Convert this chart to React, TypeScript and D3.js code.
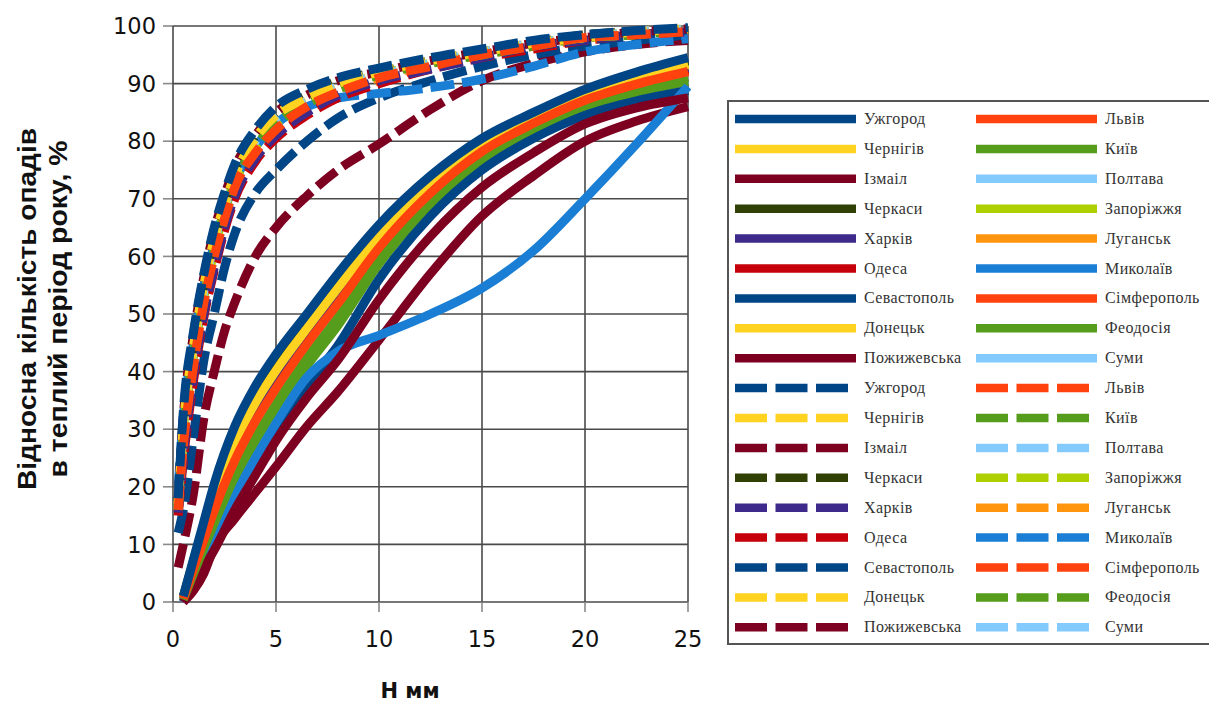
import * as d3 from 'd3';

const xTicks = [0, 5, 10, 15, 20, 25];
const yTicks = [0, 10, 20, 30, 40, 50, 60, 70, 80, 90, 100];

const cities = [
  'Ужгород', 'Львів', 'Чернігів', 'Київ', 'Ізмаіл', 'Полтава',
  'Черкаси', 'Запоріжжя', 'Харків', 'Луганськ', 'Одеса', 'Миколаїв',
  'Севастополь', 'Сімферополь', 'Донецьк', 'Феодосія', 'Пожижевська', 'Суми',
];
const colors = [
  '#004586', '#ff420e', '#ffd320', '#579d1c', '#7e0021', '#83caff',
  '#314004', '#aecf00', '#3d2a8a', '#ff950e', '#c5000b', '#1a7fd4',
  '#004586', '#ff420e', '#ffd320', '#579d1c', '#7e0021', '#83caff',
];

// solid lines (lower family)
const xSolid = [0.5, 1, 1.5, 2, 3, 4, 5, 6.5, 8, 10, 12.5, 15, 17.5, 20, 22.5, 25];
const uzhhorodSolid = [1, 7.5, 14, 20.5, 30.5, 37.5, 43, 50, 57, 65.5, 74, 80.5, 85, 89, 92, 94.5];
const lvivSolid = [0.6, 5.8, 10.8, 15.9, 24.6, 31.4, 37.1, 44.8, 51.8, 61.5, 71, 78.2, 83.1, 87.1, 89.9, 92.1];
const chernihivSolid = [0.8, 6.7, 12.5, 18.3, 27.7, 34.6, 40.2, 47.5, 54.5, 63.6, 72.6, 79.4, 84.1, 88.1, 91, 93.4];
const kyivSolid = [0.4, 5, 9.4, 13.7, 21.8, 28.5, 34.3, 42.3, 49.3, 59.6, 69.7, 77.1, 82.2, 86.2, 88.9, 91];
const izmailSolid = [0, 3, 6, 9, 16, 22, 28, 35.5, 42, 52.5, 63.5, 72, 78, 83, 85.8, 87.5];
const poltavaSolid = [0.5, 5.4, 10.1, 14.8, 23.2, 30, 35.7, 43.5, 50.5, 60.6, 70.4, 77.6, 82.7, 86.7, 89.4, 91.5];
const cherkasySolid = [0.9, 7.2, 13.4, 19.6, 29.4, 36.3, 41.9, 49, 56, 64.7, 73.4, 80.1, 84.6, 88.6, 91.6, 94];
const zaporizhzhiaSolid = [0.8, 6.9, 12.9, 18.8, 28.4, 35.3, 40.9, 48.1, 55.1, 64.1, 73, 79.7, 84.3, 88.3, 91.2, 93.6];
const kharkivSolid = [0.7, 6.3, 11.8, 17.2, 26.3, 33.2, 38.8, 46.3, 53.3, 62.7, 71.9, 78.9, 83.7, 87.7, 90.5, 92.8];
const luhanskSolid = [0.7, 6.4, 12, 17.5, 26.7, 33.6, 39.2, 46.6, 53.6, 62.9, 72.1, 79, 83.8, 87.8, 90.6, 93];
const odesaSolid = [0.6, 6.1, 11.4, 16.6, 25.6, 32.4, 38.1, 45.6, 52.6, 62.2, 71.5, 78.6, 83.4, 87.4, 90.2, 92.5];
const mykolaivSolid = [0, 4.5, 8, 11.5, 18.5, 25, 31, 39, 43.5, 46.3, 50, 54.5, 61, 70, 79.5, 89.5];
const sevastopolSolid = [0, 3.5, 6.5, 9.5, 16.5, 23, 29, 37.5, 44.5, 56, 67, 75, 80.5, 84.5, 87, 88.8];
const simferopolSolid = [0.5, 5.7, 10.6, 15.5, 24.2, 31, 36.7, 44.4, 51.4, 61.2, 70.8, 78, 83, 87, 89.7, 91.9];
const donetskSolid = [0.8, 6.6, 12.4, 18.1, 27.4, 34.3, 39.9, 47.3, 54.3, 63.4, 72.5, 79.3, 84, 88, 90.9, 93.2];
const feodosiaSolid = [0.3, 4.6, 8.6, 12.6, 20.4, 27.1, 32.9, 41, 48, 58.7, 69, 76.5, 81.8, 85.8, 88.4, 90.4];
const pozhyzhevskaSolid = [0, 2, 5, 9.5, 14.5, 19, 23.5, 30.5, 36.5, 45.5, 57, 67, 74, 80, 83.5, 86];
const sumySolid = [0.3, 4.9, 9, 13.2, 21.2, 27.9, 33.8, 41.8, 48.8, 59.2, 69.4, 76.9, 82, 86, 88.7, 90.7];

// dashed lines (upper family)
const xDashed = [0.25, 0.5, 1, 1.5, 2, 2.5, 3, 4, 5, 6.5, 8, 10, 12.5, 15, 17.5, 20, 22.5, 25];
const uzhhorodDashed = [18, 33, 47, 57, 65, 71, 76, 82, 86, 89, 91, 92.7, 94.5, 96, 97.5, 98.5, 99.2, 99.7];
const lvivDashed = [16, 27, 41, 52, 60, 66.5, 72, 78, 82, 86, 88.5, 91, 93, 95, 96.5, 98, 98.5, 99];
const chernihivDashed = [17, 30.5, 44.5, 55, 63, 69, 74, 80.5, 84.5, 87.5, 90, 92, 94, 95.5, 97, 98, 99, 99.5];
const kyivDashed = [16, 28.5, 42.5, 52.5, 61, 67, 72.5, 79, 83, 86.5, 89, 91.5, 93.5, 95, 96.5, 98, 98.5, 99.5];
const izmailDashed = [17, 32, 46.5, 56.5, 64.5, 70.5, 75.5, 81, 85, 88, 90.5, 92, 94, 95.5, 97, 98, 99, 99.5];
const poltavaDashed = [17, 30, 44, 54, 62.5, 68.5, 74, 80, 84, 87, 89.5, 91.5, 93.5, 95.5, 97, 98, 99, 99.5];
const cherkasyDashed = [17.5, 31.5, 45.5, 55.5, 63.5, 69.5, 75, 81, 85, 88, 90.5, 92, 94, 95.5, 97, 98.5, 99, 99.5];
const zaporizhzhiaDashed = [16.5, 29, 43, 53, 61, 68, 73, 79, 83, 87, 89, 91.5, 93.5, 95, 97, 98, 98.5, 99.5];
const kharkivDashed = [15.5, 25.5, 39.5, 50, 58, 65, 70.5, 77, 81, 85, 88, 90.5, 92.5, 94.5, 96.5, 97.5, 98.5, 99];
const luhanskDashed = [16, 28, 42, 52.5, 60.5, 67, 72.5, 78.5, 82.5, 86.5, 89, 91, 93.5, 95, 96.5, 98, 98.5, 99.5];
const odesaDashed = [15, 24.5, 38.5, 49.5, 57.5, 64.5, 70, 76.5, 80.5, 84.5, 87.5, 90, 92.5, 94.5, 96, 97.5, 98.5, 99];
const mykolaivDashed = [20, 32, 45, 55, 62, 68, 73, 79, 83, 86, 87.5, 88.3, 89.3, 90.8, 93, 95.5, 96.8, 97.8];
const sevastopolDashed = [12, 16, 29, 42, 50, 58, 64, 71, 75, 80, 84, 87.5, 90.5, 93, 95, 96.5, 97.5, 98.5];
const simferopolDashed = [15.5, 26, 40, 51, 59, 66, 71, 77.5, 81.5, 85.5, 88, 90.5, 93, 95, 96.5, 97.5, 98.5, 99];
const donetskDashed = [17, 29.5, 43.5, 54, 62, 68.5, 73.5, 80, 84, 87, 89.5, 91.5, 93.5, 95.5, 97, 98, 99, 99.5];
const feodosiaDashed = [16.5, 29, 43, 53.5, 61.5, 68, 73, 79.5, 83.5, 87, 89.5, 91.5, 93.5, 95.5, 97, 98, 98.5, 99.5];
const pozhyzhevskaDashed = [6, 10, 19, 32, 40, 47, 52, 60, 65, 70.5, 75, 79.5, 85.5, 90.5, 93.5, 95.5, 96.8, 97.5];
const sumyDashed = [16, 27.5, 41.5, 52, 60, 66.5, 72, 78, 82, 86, 88.5, 91, 93, 95, 96.5, 97.5, 98.5, 99];

const solidSeries = [
  uzhhorodSolid, lvivSolid, chernihivSolid, kyivSolid, izmailSolid, poltavaSolid,
  cherkasySolid, zaporizhzhiaSolid, kharkivSolid, luhanskSolid, odesaSolid, mykolaivSolid,
  sevastopolSolid, simferopolSolid, donetskSolid, feodosiaSolid, pozhyzhevskaSolid, sumySolid,
];
const dashedSeries = [
  uzhhorodDashed, lvivDashed, chernihivDashed, kyivDashed, izmailDashed, poltavaDashed,
  cherkasyDashed, zaporizhzhiaDashed, kharkivDashed, luhanskDashed, odesaDashed, mykolaivDashed,
  sevastopolDashed, simferopolDashed, donetskDashed, feodosiaDashed, pozhyzhevskaDashed, sumyDashed,
];

const W = 1209;
const H = 705;

export default function App() {
  const x = d3.scaleLinear().domain([0, 25]).range([173, 688]);
  const y = d3.scaleLinear().domain([0, 100]).range([602, 26]);

  const line = d3.line<[number, number]>()
    .x(d => x(d[0]))
    .y(d => y(d[1]))
    .curve(d3.curveMonotoneX);

  // first series ends up on top, so paint in reverse
  const series = [
    ...solidSeries.map((vals, i) => ({ xs: xSolid, vals, color: colors[i], dashed: false })),
    ...dashedSeries.map((vals, i) => ({ xs: xDashed, vals, color: colors[i], dashed: true })),
  ].reverse();

  // legend: 2 columns, row-major, solid items first then dashed
  const legendItems = [
    ...cities.map((name, i) => ({ name, color: colors[i], dashed: false })),
    ...cities.map((name, i) => ({ name, color: colors[i], dashed: true })),
  ];
  const legX = [735, 976];
  const rowY = (r: number) => 119 + r * 29.9;

  return (
    <svg width={W} height={H} style={{ position: 'absolute', left: 0, top: 0, background: '#fff' }}>
      {/* grid */}
      {yTicks.map(t => (
        <g key={'gy' + t}>
          <line x1={x(0) - 10} x2={x(0)} y1={y(t)} y2={y(t)} stroke="#8a8a8a" strokeWidth={1.6} />
          <line x1={x(0)} x2={x(25)} y1={y(t)} y2={y(t)} stroke="#4a4a4a" strokeWidth={1.6} />
          <text x={156} y={y(t)} dy="0.36em" textAnchor="end" fontFamily="DejaVu Sans" fontSize={22.5} fill="#111">{t}</text>
        </g>
      ))}
      {xTicks.map(t => (
        <g key={'gx' + t}>
          <line x1={x(t)} x2={x(t)} y1={y(0)} y2={y(0) + 10} stroke="#8a8a8a" strokeWidth={1.6} />
          <line x1={x(t)} x2={x(t)} y1={y(0)} y2={y(100)} stroke="#4a4a4a" strokeWidth={1.6} />
          <text x={x(t)} y={647} textAnchor="middle" fontFamily="DejaVu Sans" fontSize={22.5} fill="#111">{t}</text>
        </g>
      ))}

      {/* series */}
      {series.map((s, i) => (
        <path
          key={'s' + i}
          d={line(s.xs.map((v, j) => [v, s.vals[j]] as [number, number])) || ''}
          fill="none"
          stroke={s.color}
          strokeWidth={9}
          strokeDasharray={s.dashed ? '24 8' : undefined}
          strokeLinejoin="round"
        />
      ))}

      {/* axis titles */}
      <text x={410} y={698} textAnchor="middle" fontFamily="DejaVu Sans" fontWeight="bold" fontSize={21} fill="#111">Н мм</text>
      <g transform="translate(36,309) rotate(-90)">
        <text textAnchor="middle" fontFamily="Liberation Sans" fontWeight="bold" fontSize={25} fill="#111"
          textLength={362} lengthAdjust="spacingAndGlyphs">Відносна кількість опадів</text>
      </g>
      <g transform="translate(67,309) rotate(-90)">
        <text textAnchor="middle" fontFamily="Liberation Sans" fontWeight="bold" fontSize={25} fill="#111"
          textLength={337} lengthAdjust="spacingAndGlyphs">в теплий період року, %</text>
      </g>

      {/* legend */}
      <rect x={728} y={101} width={500} height={543} fill="#fff" stroke="#555" strokeWidth={2} />
      {legendItems.map((it, k) => {
        const r = Math.floor(k / 2);
        const c = k % 2;
        const lx = legX[c];
        const ly = rowY(r);
        return (
          <g key={'l' + k}>
            <line
              x1={lx}
              x2={it.dashed ? lx + 114 : lx + 121}
              y1={ly}
              y2={ly}
              stroke={it.color}
              strokeWidth={8.5}
              strokeDasharray={it.dashed ? '32 8.5' : undefined}
            />
            <text x={lx + 129} y={ly + 5} fontFamily="Liberation Serif" fontSize={16} letterSpacing={0.4} fill="#333">{it.name}</text>
          </g>
        );
      })}
    </svg>
  );
}
